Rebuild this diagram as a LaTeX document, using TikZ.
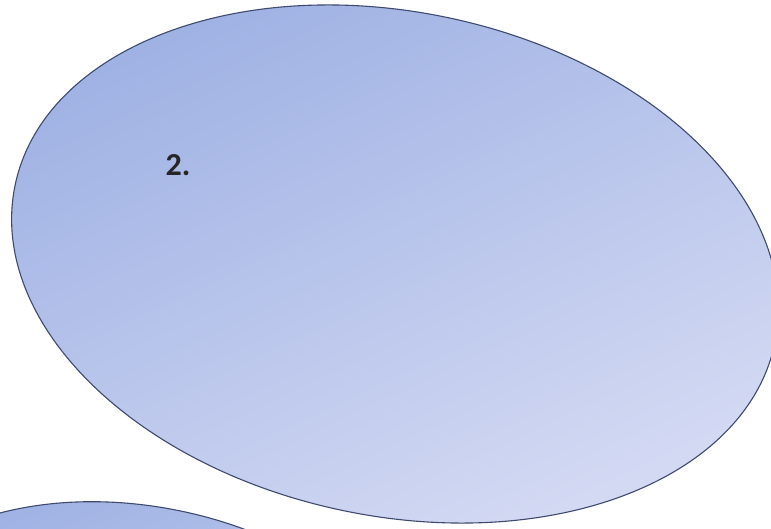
\documentclass[tikz,border=0pt]{standalone}
\usepackage{fontspec}
\setmainfont{Carlito}
\usetikzlibrary{positioning}

\begin{document}
\begin{tikzpicture}[x=1pt,y=1pt,
        blob/.style={draw=blobline,line width=1.1pt,shading=axis,
            top color=blobtop,bottom color=blobbottom,shading angle=25},
        tag/.style={font=\fontsize{32}{32}\selectfont\bfseries,text=black!85,inner sep=0pt}]
        \definecolor{blobline}{HTML}{3E4A6E}
        \definecolor{blobtop}{HTML}{9DB0E3}
        \definecolor{blobbottom}{HTML}{D3D9F3}
        \useasboundingbox (0,0) rectangle (771,528);
        \clip (0,0) rectangle (771,528);
        % lower ellipse, only its top shows
        \shade[blob,rotate around={-11.7:(142,-168)}] (142,-168) ellipse [x radius=291,y radius=189];
        % main ellipse
        \shade[blob,rotate around={-11.7:(395,264)}] (395,264) ellipse [x radius=388,y radius=252];
        \node[tag] (num) at (178,363) {2.};
    \end{tikzpicture}
\end{document}
